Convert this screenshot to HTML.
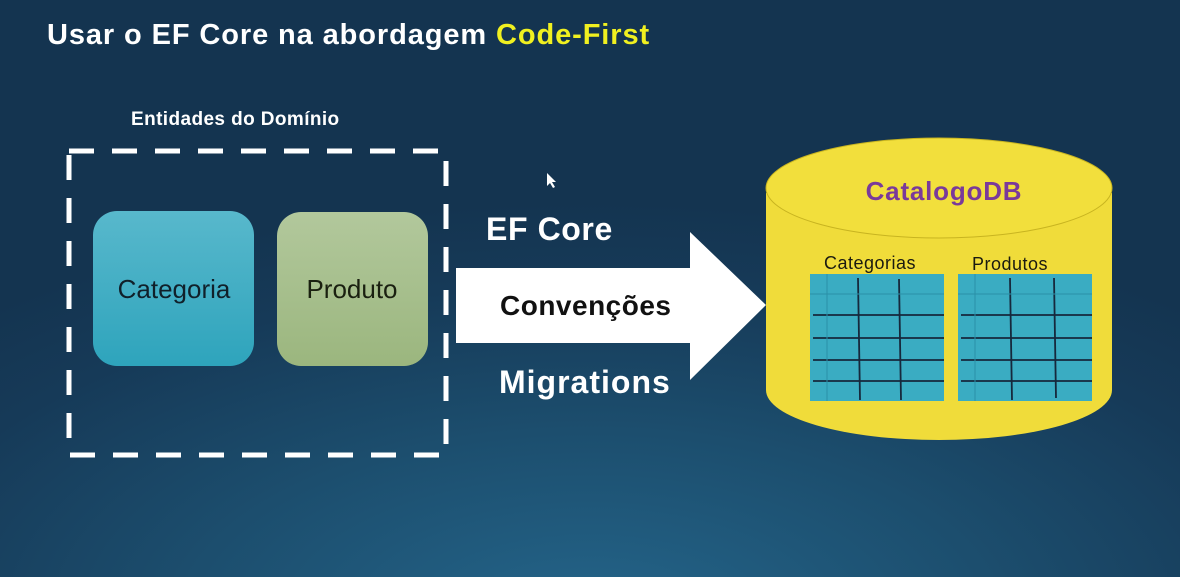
<!DOCTYPE html>
<html><head><meta charset="utf-8"><style>
html,body{margin:0;padding:0}
body{width:1180px;height:577px;overflow:hidden;position:relative;font-family:"Liberation Sans",sans-serif;
background:radial-gradient(ellipse 900px 420px at 590px 620px,#24658a 0%,#1c4e6e 45%,#163a58 80%,#143450 100%);}
.t{position:absolute;white-space:nowrap}
</style></head><body>
<div class="t" style="left:47px;top:19px;font-size:29px;font-weight:bold;color:#fff;letter-spacing:0.9px">Usar o EF Core na abordagem <span style="color:#f0f020">Code-First</span></div>
<div class="t" style="left:131px;top:109px;font-size:19px;font-weight:bold;color:#fff;letter-spacing:0.4px">Entidades do Domínio</div>
<svg width="1180" height="577" style="position:absolute;left:0;top:0">
<defs>
<linearGradient id="g1" x1="0" y1="0" x2="0" y2="1"><stop offset="0" stop-color="#58b8cc"/><stop offset="1" stop-color="#2ea4bc"/></linearGradient>
<linearGradient id="g2" x1="0" y1="0" x2="0" y2="1"><stop offset="0" stop-color="#b2c89c"/><stop offset="1" stop-color="#9bb67e"/></linearGradient>
</defs>
<rect x="69" y="151" width="377" height="304" fill="none" stroke="#fff" stroke-width="5" stroke-dasharray="25 18"/>
<rect x="93" y="211" width="161" height="155" rx="24" fill="url(#g1)"/>
<rect x="277" y="212" width="151" height="154" rx="24" fill="url(#g2)"/>
<text x="174" y="298" font-size="26" text-anchor="middle" fill="#10202a" font-family="Liberation Sans">Categoria</text>
<text x="352" y="298" font-size="26" text-anchor="middle" fill="#1a2010" font-family="Liberation Sans">Produto</text>
<polygon points="456,268 690,268 690,232 766,305 690,380 690,343 456,343" fill="#fff"/>
<path d="M766,193 L766,390 A173,50 0 0 0 1112,390 L1112,193 Z" fill="#f0dc3a"/>
<ellipse cx="939" cy="188" rx="173" ry="50" fill="#f2df3c" stroke="#c8b420" stroke-width="1"/>
<g>
<rect x="810" y="274" width="134" height="127" fill="#3aacc2"/>
<rect x="958" y="274" width="134" height="127" fill="#3aacc2"/>
<g stroke="#16283c" stroke-width="1.8">
<line x1="813" y1="315" x2="944" y2="315"/><line x1="813" y1="338" x2="944" y2="338"/><line x1="813" y1="360" x2="944" y2="360"/><line x1="813" y1="381" x2="944" y2="381"/>
<line x1="858" y1="278" x2="860" y2="400"/><line x1="899" y1="279" x2="901" y2="400"/>
<line x1="961" y1="315" x2="1092" y2="315"/><line x1="961" y1="338" x2="1092" y2="338"/><line x1="961" y1="360" x2="1092" y2="360"/><line x1="961" y1="381" x2="1092" y2="381"/>
<line x1="1010" y1="278" x2="1012" y2="400"/><line x1="1054" y1="278" x2="1056" y2="398"/>
</g>
<g stroke="#2a90a8" stroke-width="1"><line x1="827" y1="274" x2="827" y2="401"/><line x1="975" y1="274" x2="975" y2="401"/><line x1="810" y1="294" x2="944" y2="294"/><line x1="958" y1="294" x2="1092" y2="294"/></g>
</g>
<text x="944" y="200" font-size="26" font-weight="bold" text-anchor="middle" fill="#7a3a9a" font-family="Liberation Sans" letter-spacing="0.8">CatalogoDB</text>
<text x="824" y="269" font-size="18" fill="#1a1a10" font-family="Liberation Sans" letter-spacing="0.5">Categorias</text>
<text x="972" y="270" font-size="18" fill="#1a1a10" font-family="Liberation Sans" letter-spacing="0.5">Produtos</text>
<text x="486" y="240" font-size="32" font-weight="bold" fill="#fff" font-family="Liberation Sans" letter-spacing="0.6">EF Core</text>
<text x="500" y="315" font-size="28" font-weight="bold" fill="#111" font-family="Liberation Sans" letter-spacing="0.5">Convenções</text>
<text x="499" y="393" font-size="32" font-weight="bold" fill="#fff" font-family="Liberation Sans" letter-spacing="1">Migrations</text>
<polygon points="547,173 547,186 550,183 553,188 555,187 552,182 556,182" fill="#fff"/>
</svg>
</body></html>
